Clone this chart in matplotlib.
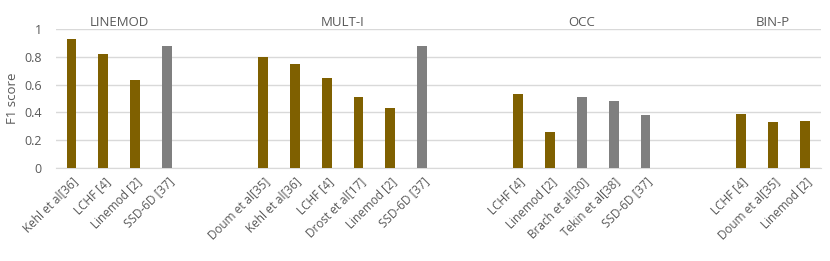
import numpy as np
import matplotlib
matplotlib.use("Agg")
import matplotlib.pyplot as plt

plt.rcParams['font.family'] = ['Open Sans', 'DejaVu Sans']

# Data
groups = ['LINEMOD', 'MULT-I', 'OCC', 'BIN-P']
labels = [
    ['Kehl et al[36]', 'LCHF [4]', 'Linemod [2]', 'SSD-6D [37]'],
    ['Doum et al[35]', 'Kehl et al[36]', 'LCHF [4]', 'Drost et al[17]', 'Linemod [2]', 'SSD-6D [37]'],
    ['LCHF [4]', 'Linemod [2]', 'Brach et al[30]', 'Tekin et al[38]', 'SSD-6D [37]'],
    ['LCHF [4]', 'Doum et al[35]', 'Linemod [2]'],
]
values = [
    [0.93, 0.82, 0.63, 0.88],
    [0.80, 0.75, 0.65, 0.51, 0.43, 0.88],
    [0.53, 0.26, 0.51, 0.48, 0.38],
    [0.39, 0.33, 0.34],
]
# True = gray bar, False = brown bar
gray = [
    [False, False, False, True],
    [False, False, False, False, False, True],
    [False, False, True, True, True],
    [False, False, False],
]

brown_c = '#7F6000'
gray_c = '#7F7F7F'
text_c = '#595959'

fig = plt.figure(figsize=(8.3, 2.61), dpi=100)
ax = fig.add_axes([0.067, 0.356, 0.922, 0.533])

gap = 2
pos = 0
ticks, ticklabels = [], []
for g, labs, vals, gr in zip(groups, labels, values, gray):
    x = np.arange(pos, pos + len(vals))
    cols = [gray_c if k else brown_c for k in gr]
    ax.bar(x, vals, width=0.31, color=cols, zorder=3)
    ticks += list(x)
    ticklabels += labs
    ax.text(x.mean(), 1.05, g, transform=ax.get_xaxis_transform(),
            ha='center', va='center', fontsize=9.5, color=text_c)
    pos += len(vals) + gap

ax.set_xlim(-0.5, pos - gap - 0.5)
ax.set_ylim(0, 1)
ax.set_yticks(np.arange(0, 1.01, 0.2))
ax.set_yticklabels(['0', '0.2', '0.4', '0.6', '0.8', '1'])
ax.set_xticks(ticks)
ax.set_xticklabels(ticklabels, rotation=45, ha='right', rotation_mode='anchor',
                   fontsize=8.5, color=text_c)
ax.tick_params(axis='y', length=0, labelsize=9, labelcolor=text_c, pad=10)
ax.tick_params(axis='x', length=0, pad=5)
ax.grid(axis='y', color='#D9D9D9', linewidth=1, zorder=0)
for s in ['top', 'right', 'left']:
    ax.spines[s].set_visible(False)
ax.spines['bottom'].set_color('#D9D9D9')
ax.set_ylabel('F1 score', fontsize=9.5, color=text_c, labelpad=4)

fig.savefig('out.png', dpi=100)
